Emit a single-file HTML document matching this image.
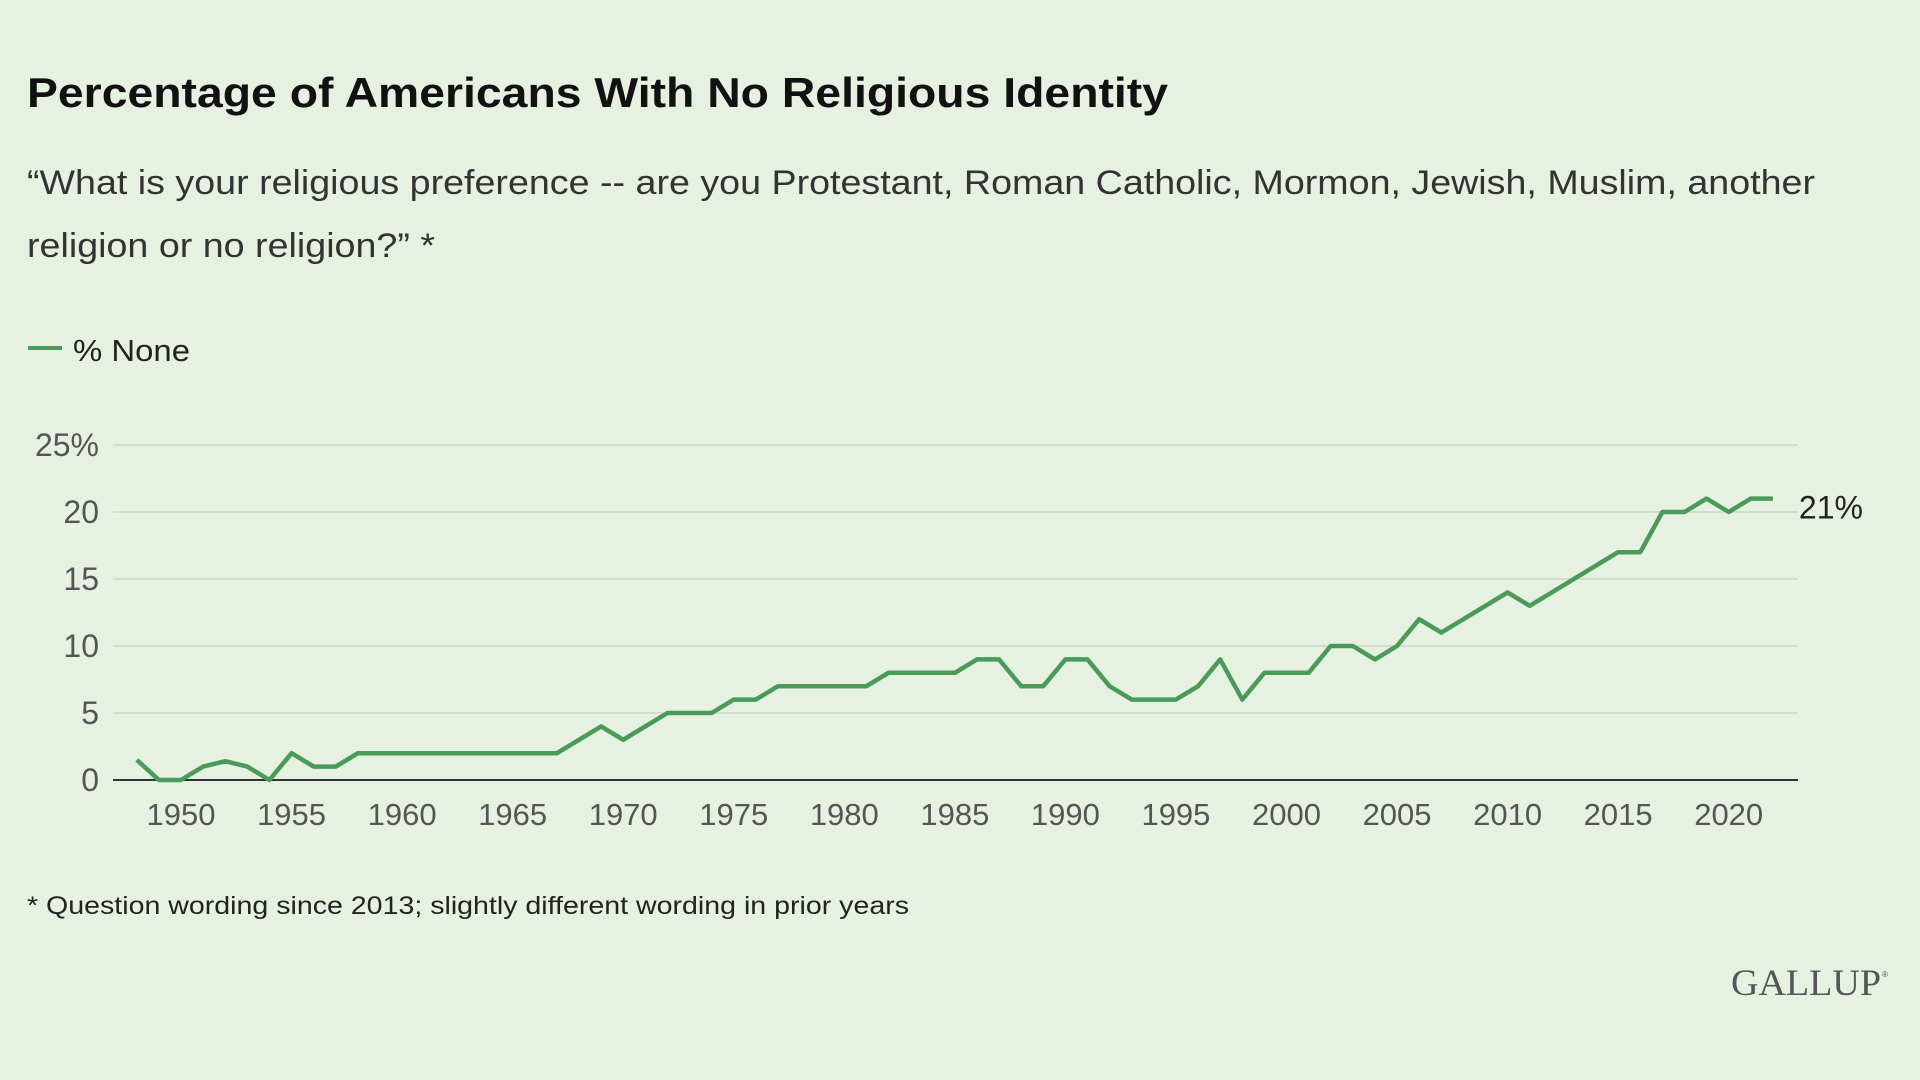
<!DOCTYPE html>
<html><head><meta charset="utf-8"><style>
html,body{margin:0;padding:0;background:#e7f1e1;}
svg{display:block;font-family:"Liberation Sans",sans-serif;}
</style></head><body>
<svg id="chart" width="1920" height="1080" viewBox="0 0 1920 1080">
<rect width="1920" height="1080" fill="#e7f1e1"/>
<text x="27" y="107" font-size="42" font-weight="bold" fill="#111" textLength="1141" lengthAdjust="spacingAndGlyphs">Percentage of Americans With No Religious Identity</text>
<text x="27" y="194" font-size="34" fill="#333" textLength="1788" lengthAdjust="spacingAndGlyphs">“What is your religious preference -- are you Protestant, Roman Catholic, Mormon, Jewish, Muslim, another</text>
<text x="27" y="257" font-size="34" fill="#333" textLength="408" lengthAdjust="spacingAndGlyphs">religion or no religion?” *</text>
<g>
<line x1="28" y1="348" x2="62" y2="348" stroke="#4a9b5a" stroke-width="4"/>
<text x="73" y="361" font-size="31" fill="#222" textLength="117" lengthAdjust="spacingAndGlyphs">% None</text>
</g>
<g id="grid"></g>
<g id="yticks"></g>
<g id="xticks"></g>
<g id="series"></g>
<text x="27" y="914" font-size="25" fill="#222" textLength="882" lengthAdjust="spacingAndGlyphs">* Question wording since 2013; slightly different wording in prior years</text>
<text x="1731" y="995" font-size="37" fill="#555" font-family="Liberation Serif, serif" textLength="150" lengthAdjust="spacingAndGlyphs">GALLUP</text>
<text x="1882" y="977" font-size="8" fill="#555">®</text>
</svg>
<script>
const years = [1948,1949,1950,1951,1952,1953,1954,1955,1956,1957,1958,1959,1960,1961,1962,1963,1964,1965,1966,1967,1968,1969,1970,1971,1972,1973,1974,1975,1976,1977,1978,1979,1980,1981,1982,1983,1984,1985,1986,1987,1988,1989,1990,1991,1992,1993,1994,1995,1996,1997,1998,1999,2000,2001,2002,2003,2004,2005,2006,2007,2008,2009,2010,2011,2012,2013,2014,2015,2016,2017,2018,2019,2020,2021,2022];
const noneValues = [1.5,0,0,1,1.4,1,0,2,1,1,2,2,2,2,2,2,2,2,2,2,3,4,3,4,5,5,5,6,6,7,7,7,7,7,8,8,8,8,9,9,7,7,9,9,7,6,6,6,7,9,6,8,8,8,10,10,9,10,12,11,12,13,14,13,14,15,16,17,17,20,20,21,20,21,21];
const yTicks = [0,5,10,15,20,25];
const yTickLabels = ["0","5","10","15","20","25%"];
const xTicks = [1950,1955,1960,1965,1970,1975,1980,1985,1990,1995,2000,2005,2010,2015,2020];
const endLabel = "21%";

const NS = "http://www.w3.org/2000/svg";
const X0 = 113, X1 = 1798;
function xs(yr){ return 181 + (yr - 1950) * 22.11; }
function ys(v){ return 780 - v * 13.4; }
function mk(tag, attrs, parent){ const e = document.createElementNS(NS, tag); for (const k in attrs) e.setAttribute(k, attrs[k]); parent.appendChild(e); return e; }

const grid = document.getElementById('grid');
const yt = document.getElementById('yticks');
yTicks.forEach((t, i) => {
  if (t !== 0) {
    const l = mk('line', {x1:X0, x2:X1, y1:ys(t), y2:ys(t), stroke:'#d3dccd', 'stroke-width':2}, grid);
    
    
  }
  const tx = mk('text', {x:99, y:ys(t)+11, 'font-size':32, fill:'#555', 'text-anchor':'end'}, yt);
  tx.textContent = yTickLabels[i];
  
  
});
const base = mk('line', {x1:X0, x2:X1, y1:ys(0), y2:ys(0), stroke:'#333', 'stroke-width':2}, grid);



const xt = document.getElementById('xticks');
xTicks.forEach(t => {
  const tx = mk('text', {x:xs(t), y:825, 'font-size':31, fill:'#555', 'text-anchor':'middle'}, xt);
  tx.textContent = String(t);
  
  
});

const series = document.getElementById('series');
const d = years.map((y, i) => (i ? 'L' : 'M') + xs(y).toFixed(1) + ',' + ys(noneValues[i]).toFixed(1)).join(' ');
const path = mk('path', {d:d, fill:'none', stroke:'#4a9b5a', 'stroke-width':4.5, 'stroke-linejoin':'round'}, series);


const last = noneValues.length - 1;
const lbl = mk('text', {x:xs(years[last]) + 26, y:ys(noneValues[last]) + 20, 'font-size':32, fill:'#222'}, series);
lbl.textContent = endLabel;


</script>
</body></html>
